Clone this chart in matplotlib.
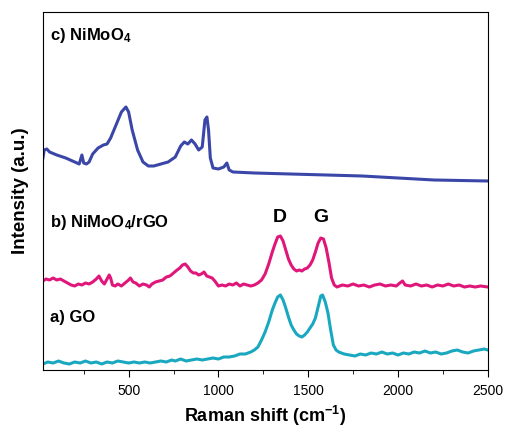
import numpy as np
import matplotlib
matplotlib.use("Agg")
from matplotlib import pyplot as plt
from matplotlib.ticker import MultipleLocator

plt.rcParams["font.family"] = ["Liberation Sans", "DejaVu Sans"]
plt.rcParams["mathtext.fontset"] = "custom"
plt.rcParams["mathtext.rm"] = "Liberation Sans:bold"
plt.rcParams["mathtext.bf"] = "Liberation Sans:bold"
plt.rcParams["mathtext.default"] = "rm"

# c) NiMoO4  (Raman shift in cm-1, intensity in a.u. incl. stacking offset)
nimoo4_x = [23, 30, 45, 60, 100, 150, 200, 225, 240, 250, 265, 280, 300, 330, 360, 380, 400, 430,
            460, 485, 500, 520, 550, 580, 610, 640, 680, 720, 760, 790, 810, 830, 850, 870, 890, 910,
            925, 936, 945, 955, 970, 1000, 1030, 1047, 1060, 1081, 1200, 1400, 1600, 1800, 2000,
            2200, 2500]
nimoo4_y = [212, 220, 221, 218, 215, 212, 208, 206, 215, 207, 206, 208, 216, 222, 225, 226, 232, 245,
            258, 263, 258, 240, 220, 208, 204, 204, 206, 208, 213, 224, 228, 226, 230, 226, 220, 223,
            250, 253, 240, 212, 202, 201, 203, 207, 200, 198, 197, 196, 195, 194, 192,
            190, 189]

# b) NiMoO4/rGO
rgo_x = [23, 40, 60, 80, 100, 120, 140, 160, 180, 200, 220, 240, 260, 280, 300, 320, 335, 350, 365,
         380, 392, 400, 410, 425, 440, 460, 480, 500, 510, 525, 540, 560, 580, 600, 615, 630, 650,
         670, 690, 710, 730, 750, 770, 785, 800, 815, 830, 845, 860, 875, 890, 905, 920, 935, 950,
         965, 980, 1000, 1020, 1040, 1060, 1080, 1100, 1120, 1140, 1160, 1180, 1200, 1220, 1240,
         1260, 1280, 1300, 1315, 1330, 1345, 1360, 1375, 1390, 1405, 1420, 1435, 1450, 1465, 1480,
         1495, 1510, 1525, 1540, 1555, 1570, 1585, 1600, 1615, 1630, 1645, 1660, 1690, 1720, 1750,
         1780, 1810, 1840, 1870, 1900, 1930, 1960, 1990, 2010, 2025, 2040, 2070, 2100, 2130, 2160,
         2190, 2220, 2250, 2280, 2310, 2340, 2370, 2400, 2430, 2460, 2500]
rgo_y = [89, 91, 90, 92, 90, 91, 89, 87, 85, 84, 86, 85, 87, 86, 88, 91, 94, 89, 86,
         91, 95, 92, 85, 84, 86, 84, 87, 90, 92, 88, 87, 84, 86, 85, 83, 86, 88,
         89, 90, 93, 94, 97, 100, 102, 105, 106, 103, 99, 97, 97, 95, 96, 98, 94, 93,
         92, 89, 84, 85, 84, 86, 85, 87, 84, 86, 85, 84, 85, 87, 90,
         96, 106, 118, 126, 133, 134, 129, 120, 111, 105, 101, 99, 100, 99, 101,
         102, 105, 110, 118, 127, 132, 131, 122, 108, 92, 85, 83, 85, 84, 86,
         84, 85, 83, 85, 86, 84, 85, 84, 87, 89, 85, 84, 86, 84, 85,
         83, 85, 84, 86, 84, 85, 83, 84, 83, 84, 83]

# a) GO
go_x = [23, 50, 80, 110, 140, 170, 200, 230, 260, 290, 320, 350, 380, 410, 440, 470, 500, 530, 560,
        590, 620, 650, 680, 710, 740, 760, 790, 820, 850, 880, 910, 940, 970, 1000, 1030, 1060,
        1090, 1120, 1150, 1180, 1200, 1220, 1240, 1260, 1280, 1300, 1315, 1330, 1345, 1360, 1375,
        1390, 1405, 1420, 1435, 1450, 1465, 1480, 1495, 1510, 1525, 1540, 1555, 1570, 1580, 1595,
        1610, 1625, 1640, 1655, 1670, 1700, 1730, 1760, 1790, 1820, 1850, 1880, 1910, 1940, 1970,
        2000, 2030, 2060, 2090, 2120, 2150, 2180, 2210, 2240, 2270, 2300, 2330, 2360, 2390, 2420,
        2450, 2480, 2500]
go_y = [6, 8, 7, 9, 7, 6, 8, 7, 9, 7, 8, 6, 8, 7, 9, 8, 7, 8, 7,
        8, 7, 8, 9, 8, 10, 9, 11, 9, 10, 11, 10, 11, 12, 11, 13, 13,
        14, 16, 16, 18, 20, 23, 30, 38, 48, 60, 67, 73, 75, 70, 62,
        53, 45, 40, 36, 34, 33, 35, 38, 42, 46, 52, 63, 74, 75, 68,
        57, 40, 25, 20, 18, 16, 15, 14, 16, 15, 17, 16, 18, 16, 17,
        15, 17, 16, 18, 17, 19, 17, 18, 16, 17, 19, 20, 18, 17, 19,
        20, 21, 20]

fig = plt.figure(figsize=(5.05, 4.28), dpi=100)
ax = fig.add_axes([0.085, 0.1355, 0.881, 0.8365])

ax.plot(nimoo4_x, nimoo4_y, color="#3a47a8", lw=2.2)
ax.plot(rgo_x, rgo_y, color="#e0177a", lw=2.2)
ax.plot(go_x, go_y, color="#1aa8c0", lw=2.2)

ax.set_xlim(23, 2500)
ax.set_ylim(0, 358)
ax.xaxis.set_major_locator(MultipleLocator(500))
ax.xaxis.set_minor_locator(MultipleLocator(250))
ax.tick_params(axis="x", which="both", direction="out", top=False, labelsize=10, pad=5)
ax.tick_params(axis="x", which="major", length=5)
ax.tick_params(axis="x", which="minor", length=3)
ax.set_yticks([])

ax.set_xlabel("Raman shift (cm$^{-1}$)", fontsize=13, fontweight="bold", labelpad=4)
ax.set_ylabel("Intensity (a.u.)", fontsize=13.5, fontweight="bold", labelpad=10)

ax.text(62, 330, "c) NiMoO$_4$", fontsize=12, fontweight="bold", va="baseline")
ax.text(62, 143, "b) NiMoO$_4$/rGO", fontsize=12, fontweight="bold", va="baseline")
ax.text(62, 48, "a) GO", fontsize=12, fontweight="bold", va="baseline")
ax.text(1340, 148, "D", fontsize=14, fontweight="bold", ha="center", va="baseline")
ax.text(1572, 148, "G", fontsize=14, fontweight="bold", ha="center", va="baseline")

plt.savefig("out.png", dpi=100)
